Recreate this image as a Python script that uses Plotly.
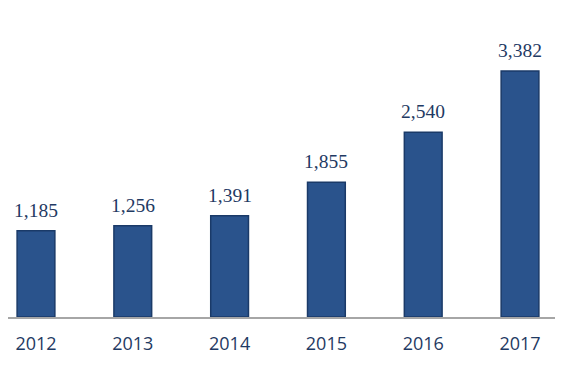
import plotly.graph_objects as go

years = ["2012", "2013", "2014", "2015", "2016", "2017"]
values = [1185, 1256, 1391, 1855, 2540, 3382]
labels = ["1,185", "1,256", "1,391", "1,855", "2,540", "3,382"]

fig = go.Figure(go.Bar(
    x=years, y=values,
    marker=dict(color="#2A538C", line=dict(color="#1A3A68", width=1.5)),
    width=0.39,
))

for i, (v, lab) in enumerate(zip(values, labels)):
    fig.add_annotation(x=i, y=v, xref="x", yref="y", text=lab, showarrow=False,
                       yanchor="bottom", yshift=8,
                       font=dict(family="Liberation Serif, DejaVu Serif, serif", size=19.5, color="#1F3A63"))

fig.update_layout(
    width=555, height=374,
    margin=dict(l=0, r=0, t=0, b=65),
    paper_bgcolor="white", plot_bgcolor="white",
    showlegend=False,
    xaxis=dict(type="category", range=[-0.289, 5.444], showgrid=False,
               showline=True, linecolor="#A6A6A6", linewidth=2,
               ticks="", ticklabelstandoff=9,
               tickfont=dict(family="Open Sans, sans-serif", size=18, color="#1F3A63")),
    yaxis=dict(range=[0, 4250], visible=False, showgrid=False, zeroline=False),
)

fig.write_html("out.html")
